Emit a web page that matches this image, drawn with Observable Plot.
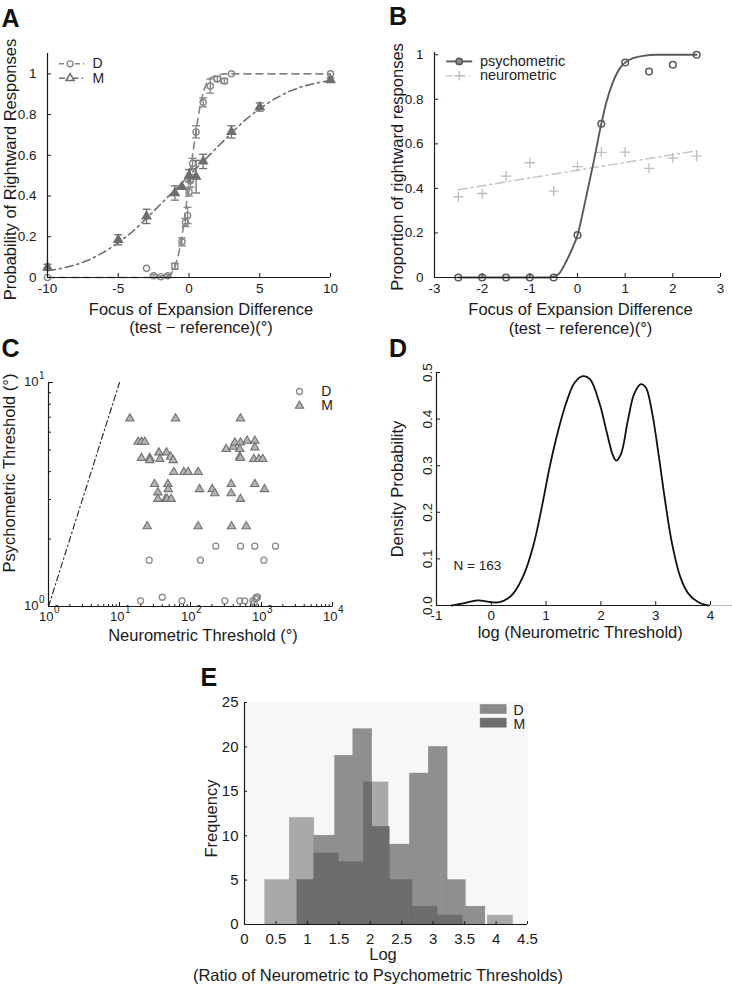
<!DOCTYPE html>
<html><head><meta charset="utf-8">
<script src="https://cdn.jsdelivr.net/npm/d3@7"></script>
<script src="https://cdn.jsdelivr.net/npm/@observablehq/plot@0.6"></script>
<style>
body{margin:0;background:#fff;}
#fig{position:relative;width:732px;height:987px;overflow:hidden;font-family:"Liberation Sans",Arial,Helvetica,sans-serif;}
.letter{position:absolute;font-weight:bold;font-size:25px;line-height:25px;color:#111;}
</style></head><body><div id="fig"></div>
<script>
// ---------- DATA ----------
// Panel A: psychometric curves of monkeys D and M
const aDx = [-10, -3, -2.5, -2, -1.5, -1, -0.5, -0.25, -0.1, 0, 0.1, 0.25, 0.5, 1, 1.5, 2, 2.5, 3, 10];
const aDy = [0, 0.045, 0.008, 0.004, 0.008, 0.055, 0.175, 0.27, 0.305, 0.42, 0.475, 0.56, 0.715, 0.86, 0.94, 0.975, 0.965, 1.0, 1.0];
const aDerr = [0, 0, 0.006, 0.004, 0.006, 0.015, 0.02, 0.02, 0.04, 0.02, 0.03, 0.025, 0.03, 0.022, 0.035, 0.012, 0.012, 0, 0];
const aMx = [-10, -5, -3, -1, -0.5, 0, 0.5, 1, 3, 5, 10];
const aMy = [0.05, 0.185, 0.3, 0.415, 0.445, 0.5, 0.495, 0.57, 0.715, 0.837, 0.97];
const aMerr = [0.015, 0.025, 0.035, 0.035, 0, 0.03, 0.08, 0.035, 0.03, 0.02, 0.01];
const aDfitX = [-10, -2, -1.5, -1.25, -1, -0.75, -0.5, -0.25, 0, 0.25, 0.5, 0.75, 1, 1.25, 1.5, 2, 2.5, 10];
const aDfitY = [0, 0, 0.006, 0.02, 0.05, 0.11, 0.2, 0.32, 0.47, 0.6, 0.72, 0.83, 0.91, 0.955, 0.98, 0.995, 1, 1];
const aMfitX = [-10, -9, -8, -7, -6, -5, -4, -3, -2, -1, 0, 1, 2, 3, 4, 5, 6, 7, 8, 9, 10];
const aMfitY = [0.033, 0.045, 0.062, 0.088, 0.125, 0.17, 0.225, 0.29, 0.36, 0.43, 0.5, 0.57, 0.64, 0.71, 0.775, 0.83, 0.875, 0.912, 0.938, 0.955, 0.967];
const aTicksX = [-10, -5, 0, 5, 10];
const aTicksY = [0, 0.2, 0.4, 0.6, 0.8, 1];

// Panel B: psychometric vs neurometric
const bX = [-2.5, -2, -1.5, -1, -0.5, 0, 0.5, 1, 1.5, 2, 2.5];
const bPsy = [0, 0, 0, 0, 0, 0.19, 0.69, 0.965, 0.925, 0.955, 1.0];
const bNeu = [0.362, 0.377, 0.455, 0.515, 0.388, 0.498, 0.562, 0.563, 0.49, 0.536, 0.545];
const bPsyFitX = [-2.5, -0.6, -0.4, -0.23, -0.09, 0, 0.12, 0.22, 0.33, 0.5, 0.61, 0.75, 0.89, 1.0, 1.17, 1.38, 1.66, 2.5];
const bPsyFitY = [0, 0, 0.015, 0.075, 0.14, 0.19, 0.3, 0.4, 0.51, 0.69, 0.79, 0.88, 0.94, 0.965, 0.985, 0.995, 1, 1];
const bNeuFitX = [-2.5, 2.5];
const bNeuFitY = [0.394, 0.569];
const bTicksX = [-3, -2, -1, 0, 1, 2, 3];
const bTicksY = [0, 0.2, 0.4, 0.6, 0.8, 1];

// Panel C: neurometric vs psychometric thresholds
const cDx = [227, 506, 805, 1574, 26.2, 138, 1079, 19.8, 40, 76, 304, 494, 580, 755, 790, 820, 850, 880];
const cDy = [1.86, 1.86, 1.86, 1.86, 1.61, 1.61, 1.61, 1.06, 1.1, 1.06, 1.06, 1.06, 1.06, 1.06, 1.04, 1.08, 1.1, 1.1];
const cMx = [14, 61.5, 506, 18.3, 20.4, 22.7, 20.4, 26.7, 26.7, 35.8, 37, 45.9, 52.3, 57, 58.2, 80.5, 92.8, 128, 31.1, 48, 34.7, 48.5, 34.7, 44.5, 47, 53.5, 134, 202, 220, 318, 399, 421, 506, 628, 805, 494, 805, 494, 506, 779, 916, 1043, 374, 374, 506, 805, 1102, 24.5, 128, 378, 608];
const cMy = [6.9, 6.9, 6.9, 5.43, 5.43, 5.43, 4.6, 4.6, 4.5, 4.87, 4.55, 4.87, 4.66, 4.5, 3.98, 3.98, 3.98, 3.98, 3.52, 3.52, 3.23, 3.34, 3.02, 3.02, 3.02, 3.02, 3.34, 3.34, 3.2, 5.04, 5.16, 5.39, 5.39, 5.49, 5.49, 5.04, 5.13, 4.66, 4.6, 4.55, 4.55, 4.55, 3.52, 3.2, 3.02, 3.52, 3.34, 2.28, 2.28, 2.28, 2.28];
const cDiagX = [1, 10];
const cDiagY = [1, 10];
const cTicksX = [1, 10, 100, 1000, 10000];
const cTicksY = [1, 10];

// Panel D: density of log neurometric threshold
const dX = [-0.73, -0.49, -0.25, 0, 0.15, 0.3, 0.41, 0.59, 0.77, 0.92, 1.07, 1.22, 1.37, 1.52, 1.67, 1.8, 1.98, 2.1, 2.22, 2.28, 2.37, 2.49, 2.61, 2.73, 2.82, 2.94, 3.06, 3.18, 3.3, 3.45, 3.6, 3.78, 3.96];
const dY = [0, 0.005, 0.011, 0.007, 0.007, 0.015, 0.027, 0.065, 0.13, 0.21, 0.3, 0.375, 0.436, 0.478, 0.492, 0.486, 0.432, 0.375, 0.322, 0.311, 0.326, 0.396, 0.455, 0.475, 0.468, 0.41, 0.318, 0.218, 0.132, 0.061, 0.025, 0.007, 0];
const dTicksX = [-1, 0, 1, 2, 3, 4];
const dTicksY = [0, 0.1, 0.2, 0.3, 0.4, 0.5];

// Panel E: histogram of log ratio
const eDx1 = [0.33, 0.72, 1.11, 1.44, 1.73, 2.03, 2.29, 2.63, 2.93, 3.23, 3.52, 3.87];
const eDx2 = [0.72, 1.11, 1.44, 1.73, 2.03, 2.29, 2.63, 2.93, 3.23, 3.52, 3.83, 4.27];
const eDn = [5, 12, 10, 19, 22, 16, 9, 17, 20, 5, 2, 1];
const eMx1 = [0.84, 1.11, 1.5, 1.9, 2.03, 2.31, 2.67, 3.07];
const eMx2 = [1.11, 1.5, 1.9, 2.03, 2.31, 2.67, 3.07, 3.47];
const eMn = [5, 8, 7, 16, 11, 5, 2, 1];
const eTicksX = [0, 0.5, 1, 1.5, 2, 2.5, 3, 3.5, 4, 4.5];
const eTicksY = [0, 5, 10, 15, 20, 25];

// ---------- HELPERS ----------
const fig = document.getElementById("fig");
const FONT = '"Liberation Sans", Arial, Helvetica, sans-serif';
const AX = "#1a1a1a";
const zip = (xs, ys, extra) => xs.map((x, i) => ({x, y: ys[i], e: extra ? extra[i] : 0}));
const capSym = {draw(ctx) { ctx.moveTo(-4, 0); ctx.lineTo(4, 0); }};
const segSym = h => ({draw(ctx) { ctx.moveTo(-h, 0); ctx.lineTo(h, 0); }});
const rectSym = {draw(ctx) { ctx.rect(-13, -4.5, 26, 9); }};
const upTick = len => ({draw(ctx) { ctx.moveTo(0, 0); ctx.lineTo(0, -len); }});
const rightTick = len => ({draw(ctx) { ctx.moveTo(0, 0); ctx.lineTo(len, 0); }});
const str = d => String(d);

function addPlot(opts, left, top) {
  const svg = Plot.plot({...opts, style: {fontFamily: FONT, fontSize: "13px", color: AX, background: "transparent", overflow: "visible"}});
  svg.style.position = "absolute";
  svg.style.left = left + "px";
  svg.style.top = top + "px";
  fig.appendChild(svg);
}
function letter(t, left, top) {
  const d = document.createElement("div");
  d.className = "letter"; d.textContent = t;
  d.style.left = left + "px"; d.style.top = top + "px";
  fig.appendChild(d);
}
function label(t, anchor, dx, dy, extra = {}) {
  return Plot.text([t], {frameAnchor: anchor, dx, dy, text: d => d, fontSize: 16.5, fill: AX, textAnchor: "middle", lineAnchor: "middle", ...extra});
}
function legText(t, anchor, dx, dy, size = 14) {
  return Plot.text([t], {frameAnchor: anchor, dx, dy, text: d => d, textAnchor: "start", lineAnchor: "middle", fontSize: size, fill: "#222"});
}

// ---------- PANEL A ----------
{
  const D = zip(aDx, aDy, aDerr), M = zip(aMx, aMy, aMerr);
  const gD = "#858585", gM = "#6e6e6e";
  const De = D.filter(d => d.e > 0), Me = M.filter(d => d.e > 0);
  addPlot({
    width: 366, height: 340, marginLeft: 47, marginRight: 36, marginTop: 53, marginBottom: 63,
    x: {domain: [-10, 10], label: null}, y: {domain: [0, 1.1], label: null},
    marks: [
      Plot.line(zip(aDfitX, aDfitY), {x: "x", y: "y", stroke: gD, strokeWidth: 1.6, strokeDasharray: "7,5"}),
      Plot.line(zip(aMfitX, aMfitY), {x: "x", y: "y", stroke: gM, strokeWidth: 1.6, strokeDasharray: "8,4,2,4"}),
      Plot.ruleX(De, {x: "x", y1: d => d.y - d.e, y2: d => d.y + d.e, stroke: gD, strokeWidth: 1.3}),
      Plot.dot(De, {x: "x", y: d => d.y + d.e, symbol: capSym, stroke: gD, fill: "none", strokeWidth: 1.3}),
      Plot.dot(De, {x: "x", y: d => d.y - d.e, symbol: capSym, stroke: gD, fill: "none", strokeWidth: 1.3}),
      Plot.ruleX(Me, {x: "x", y1: d => d.y - d.e, y2: d => d.y + d.e, stroke: gM, strokeWidth: 1.3}),
      Plot.dot(Me, {x: "x", y: d => d.y + d.e, symbol: capSym, stroke: gM, fill: "none", strokeWidth: 1.3}),
      Plot.dot(Me, {x: "x", y: d => d.y - d.e, symbol: capSym, stroke: gM, fill: "none", strokeWidth: 1.3}),
      Plot.dot(D, {x: "x", y: "y", r: 3.1, stroke: gD, strokeWidth: 1.3, fill: "none"}),
      Plot.dot(M, {x: "x", y: "y", symbol: "triangle", r: 3.1, fill: gM, stroke: gM}),
      Plot.ruleX([-10], {stroke: AX, strokeWidth: 1.2}),
      Plot.ruleY([0], {stroke: AX, strokeWidth: 1.2}),
      Plot.axisX({ticks: aTicksX, tickSize: -4, tickPadding: 10, tickFormat: str, label: null, fontSize: 13.5}),
      Plot.axisY({ticks: aTicksY, tickSize: -4, tickPadding: 15, tickFormat: str, label: null, fontSize: 13.5}),
      // legend
      Plot.dot([0], {frameAnchor: "top-left", dx: 24, dy: 10.3, symbol: segSym(12.5), stroke: gD, strokeWidth: 1.4, strokeDasharray: "5,3", fill: "none"}),
      Plot.dot([0], {frameAnchor: "top-left", dx: 22.6, dy: 10.3, r: 3, stroke: gD, strokeWidth: 1.3, fill: "white"}),
      legText("D", "top-left", 45, 10.3),
      Plot.dot([0], {frameAnchor: "top-left", dx: 24, dy: 24.7, symbol: segSym(12.5), stroke: gM, strokeWidth: 1.4, strokeDasharray: "6,3,1.5,3", fill: "none"}),
      Plot.dot([0], {frameAnchor: "top-left", dx: 22.6, dy: 24.7, symbol: "triangle", r: 3, stroke: gM, fill: "white"}),
      legText("M", "top-left", 45, 24.7),
      // axis titles
      label("Focus of Expansion Difference", "bottom", 12, 32.5),
      label("(test \u2212 reference)(\u00b0)", "bottom", 12, 50.5),
      label("Probability of Rightward Responses", "left", -37, 4, {rotate: -90})
    ]
  }, 0, 0);
}

// ---------- PANEL B ----------
{
  const P = zip(bX, bPsy), N = zip(bX, bNeu);
  const gP = "#5a5a5a", gN = "#bdbdbd";
  addPlot({
    width: 366, height: 340, marginLeft: 68, marginRight: 12, marginTop: 52, marginBottom: 63,
    x: {domain: [-3, 3], label: null}, y: {domain: [0, 1.01], label: null},
    marks: [
      Plot.line(zip(bNeuFitX, bNeuFitY), {x: "x", y: "y", stroke: "#c8c8c8", strokeWidth: 1.6, strokeDasharray: "9,4,2,4"}),
      Plot.dot(N, {x: "x", y: "y", symbol: "plus", r: 3.4, stroke: gN, strokeWidth: 1.3}),
      Plot.line(zip(bPsyFitX, bPsyFitY), {x: "x", y: "y", stroke: gP, strokeWidth: 1.9, curve: "monotone-x"}),
      Plot.dot(P, {x: "x", y: "y", r: 3.3, stroke: gP, strokeWidth: 1.5, fill: "none"}),
      Plot.ruleX([-3], {stroke: AX, strokeWidth: 1.2}),
      Plot.ruleY([0], {stroke: AX, strokeWidth: 1.2}),
      Plot.axisX({ticks: bTicksX, tickSize: -4, tickPadding: 10, tickFormat: str, label: null, fontSize: 13.5}),
      Plot.axisY({ticks: bTicksY, tickSize: -4, tickPadding: 15, tickFormat: str, label: null, fontSize: 13.5}),
      // legend
      Plot.dot([0], {frameAnchor: "top-left", dx: 24.7, dy: 8.9, symbol: segSym(13), stroke: gP, strokeWidth: 1.9, fill: "none"}),
      Plot.dot([0], {frameAnchor: "top-left", dx: 24.7, dy: 8.9, r: 3.2, stroke: gP, strokeWidth: 1.5, fill: "#8a8a8a"}),
      legText("psychometric", "top-left", 45.4, 8.9, 14.5),
      Plot.dot([0], {frameAnchor: "top-left", dx: 24.7, dy: 23.2, symbol: segSym(13), stroke: "#c8c8c8", strokeWidth: 1.6, strokeDasharray: "6,3,1.5,3", fill: "none"}),
      Plot.dot([0], {frameAnchor: "top-left", dx: 24.7, dy: 23.2, symbol: "plus", r: 3.2, stroke: gN, strokeWidth: 1.3}),
      legText("neurometric", "top-left", 45.4, 23.2, 14.5),
      label("Focus of Expansion Difference", "bottom", 3, 32.5),
      label("(test \u2212 reference)(\u00b0)", "bottom", 3, 50.8),
      label("Proportion of rightward responses", "left", -37, 2, {rotate: -90})
    ]
  }, 366, 0);
}

// ---------- PANEL C ----------
{
  const D = zip(cDx, cDy), M = zip(cMx, cMy);
  const expo = d => String(Math.round(Math.log10(d)));
  const minorX = [];
  for (let e = 0; e < 4; e++) for (let k = 2; k <= 9; k++) minorX.push(k * 10 ** e);
  const minorY = [2, 3, 4, 5, 6, 7, 8, 9];
  addPlot({
    width: 366, height: 320, marginLeft: 48, marginRight: 34, marginTop: 52, marginBottom: 44,
    x: {type: "log", domain: [1, 10000], label: null, axis: null},
    y: {type: "log", domain: [1, 10], label: null, axis: null},
    marks: [
      Plot.line(zip(cDiagX, cDiagY), {x: "x", y: "y", stroke: "#222", strokeWidth: 1.1, strokeDasharray: "6,3,1.5,3"}),
      Plot.dot(D, {x: "x", y: "y", r: 3, stroke: "#8a8a8a", strokeWidth: 1.3, fill: "none"}),
      Plot.dot(M, {x: "x", y: "y", symbol: "triangle", r: 3.1, stroke: "#707070", fill: "#b4b4b4", strokeWidth: 1.1}),
      Plot.ruleX([1], {stroke: AX, strokeWidth: 1.2}),
      Plot.ruleY([1], {stroke: AX, strokeWidth: 1.2}),
      // ticks (inward)
      Plot.dot(minorX, {x: d => d, y: 1, symbol: upTick(2.5), stroke: AX, strokeWidth: 1}),
      Plot.dot(cTicksX, {x: d => d, y: 1, symbol: upTick(4.5), stroke: AX, strokeWidth: 1}),
      Plot.dot(minorY, {x: 1, y: d => d, symbol: rightTick(2.5), stroke: AX, strokeWidth: 1}),
      Plot.dot(cTicksY, {x: 1, y: d => d, symbol: rightTick(4.5), stroke: AX, strokeWidth: 1}),
      // tick labels 10^n
      Plot.text(cTicksX, {x: d => d, y: 1, text: () => "10", textAnchor: "end", lineAnchor: "middle", dx: 5, dy: 10, fontSize: 13, fill: AX}),
      Plot.text(cTicksX, {x: d => d, y: 1, text: expo, textAnchor: "start", lineAnchor: "middle", dx: 5.5, dy: 3, fontSize: 10, fill: AX}),
      Plot.text(cTicksY, {x: 1, y: d => d, text: () => "10", textAnchor: "end", lineAnchor: "middle", dx: -10, dy: -1, fontSize: 13, fill: AX}),
      Plot.text(cTicksY, {x: 1, y: d => d, text: expo, textAnchor: "start", lineAnchor: "middle", dx: -9.5, dy: -7, fontSize: 10, fill: AX}),
      // legend
      Plot.dot([0], {frameAnchor: "top-right", dx: -33, dy: 9, r: 3, stroke: "#8a8a8a", strokeWidth: 1.3, fill: "none"}),
      legText("D", "top-right", -11.3, 9),
      Plot.dot([0], {frameAnchor: "top-right", dx: -33, dy: 23.3, symbol: "triangle", r: 3.1, stroke: "#707070", fill: "#b4b4b4", strokeWidth: 1.1}),
      legText("M", "top-right", -11.3, 23.3),
      label("Neurometric Threshold (\u00b0)", "bottom", 12.5, 29),
      label("Psychometric Threshold (\u00b0)", "left", -39, -21.5, {rotate: -90})
    ]
  }, 0, 330);
}

// ---------- PANEL D ----------
{
  const R = zip(dX, dY);
  addPlot({
    width: 366, height: 320, marginLeft: 70, marginRight: 22, marginTop: 42, marginBottom: 45,
    x: {domain: [-1, 4], label: null}, y: {domain: [0, 0.5], label: null},
    marks: [
      Plot.ruleY([0], {x1: 4, x2: 4.4, stroke: "#c0c0c0", strokeWidth: 1.2}),
      Plot.line(R, {x: "x", y: "y", curve: "catmull-rom", stroke: "#111", strokeWidth: 1.8}),
      Plot.ruleX([-1], {stroke: AX, strokeWidth: 1.2}),
      Plot.ruleY([0], {stroke: AX, strokeWidth: 1.2}),
      Plot.axisX({ticks: dTicksX, tickSize: -4, tickPadding: 9, tickFormat: str, label: null, fontSize: 13.5}),
      Plot.axisY({ticks: dTicksY, tickSize: -4, tickPadding: 9, tickRotate: -90, tickFormat: d3.format(".1f"), label: null, fontSize: 13.5}),
      legText("N = 163", "bottom-left", 17, -40, 13.5),
      label("log (Neurometric Threshold)", "bottom", 6.7, 27),
      label("Density Probability", "left", -39, 0, {rotate: -90})
    ]
  }, 366, 330);
}

// ---------- PANEL E ----------
{
  const D = eDx1.map((x1, i) => ({x1, x2: eDx2[i], n: eDn[i], i}));
  const M = eMx1.map((x1, i) => ({x1, x2: eMx2[i], n: eMn[i]}));
  const lightBins = new Set([0, 1, 5, 11]);
  const cLight = "#a9a9a9", cMed = "#8f8f8f", cDark = "#6d6d6d";
  addPlot({
    width: 400, height: 327, marginLeft: 64, marginRight: 53, marginTop: 42, marginBottom: 63,
    x: {domain: [0, 4.5], label: null}, y: {domain: [0, 25], label: null},
    marks: [
      Plot.frame({fill: "#f7f7f7", stroke: "none"}),
      Plot.rect(D.filter(d => lightBins.has(d.i)), {x1: "x1", x2: "x2", y1: 0, y2: "n", fill: cLight, stroke: "#888", strokeWidth: 0.5, strokeOpacity: 0.6}),
      Plot.rect(D.filter(d => !lightBins.has(d.i)), {x1: "x1", x2: "x2", y1: 0, y2: "n", fill: cMed, stroke: "#777", strokeWidth: 0.5, strokeOpacity: 0.6}),
      Plot.rect(M, {x1: "x1", x2: "x2", y1: 0, y2: "n", fill: cDark, stroke: "#5e5e5e", strokeWidth: 0.5, strokeOpacity: 0.6}),
      Plot.ruleX([0], {stroke: AX, strokeWidth: 1.2}),
      Plot.ruleY([0], {stroke: AX, strokeWidth: 1.2}),
      Plot.axisX({ticks: eTicksX, tickSize: -3, tickPadding: 12, tickFormat: str, label: null, fontSize: 15}),
      Plot.axisY({ticks: eTicksY, tickSize: -3, tickPadding: 9, tickFormat: str, label: null, fontSize: 15}),
      // legend
      Plot.dot([0], {frameAnchor: "top-right", dx: -34.3, dy: 6.5, symbol: rectSym, fill: "#8a8a8a", stroke: "#7a7a7a", strokeWidth: 0.5}),
      legText("D", "top-right", -14, 8, 14),
      Plot.dot([0], {frameAnchor: "top-right", dx: -34.3, dy: 20.2, symbol: rectSym, fill: cDark, stroke: "#5e5e5e", strokeWidth: 0.5}),
      legText("M", "top-right", -14, 22.4, 14),
      label("Log", "bottom", -3, 30.7),
      label("(Ratio of Neurometric to Psychometric Thresholds)", "bottom", -8, 51.7),
      label("Frequency", "left", -32.6, 5, {rotate: -90})
    ]
  }, 180, 660);
}

letter("A", 1.5, 5.5);
letter("B", 389, 3.8);
letter("C", 1.5, 335.8);
letter("D", 389, 335.8);
letter("E", 200.5, 664.8);
</script></body></html>
